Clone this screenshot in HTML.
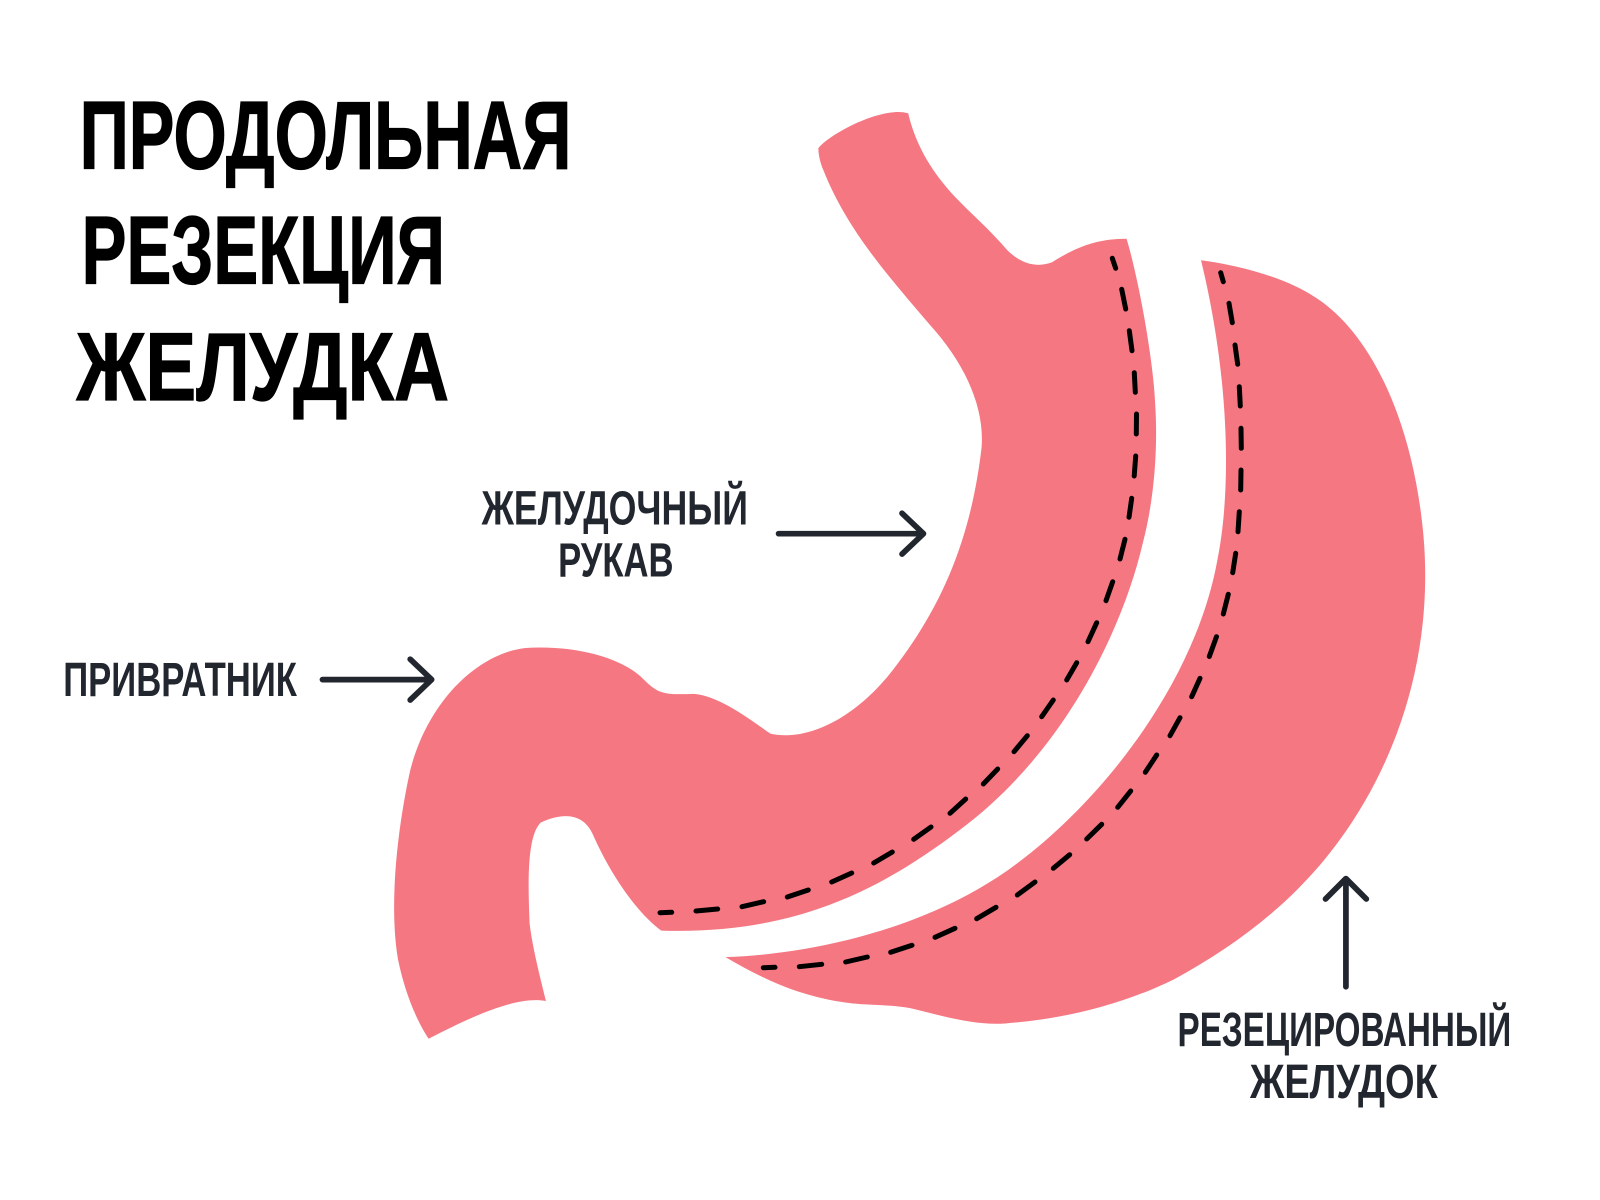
<!DOCTYPE html>
<html lang="ru">
<head>
<meta charset="utf-8">
<title>Продольная резекция желудка</title>
<style>
html,body{margin:0;padding:0;background:#fff;width:1600px;height:1200px;overflow:hidden}
svg{display:block}
text{font-family:"Liberation Sans","DejaVu Sans",sans-serif;font-weight:700}
</style>
</head>
<body>
<svg xmlns="http://www.w3.org/2000/svg" width="1600" height="1200" viewBox="0 0 1568 1176">
<rect width="1568" height="1176" fill="#fff"/>
<path fill="#f57782" d="M802,145 C815,130 860,107 885,110 L890,111 C898,145 915,170 935,192 C950,208 970,225 987,245 C1000,258 1015,263 1031,257 C1055,242 1075,234 1104,234 C1115,270 1130,350 1132,395 C1135,440 1131,490 1120,532 C1100,618 1042,738 941,813 C862,873 778,916 648,912 C625,895 600,860 582,820 C572,795 550,797 530,806 C515,820 518,875 519,905 C522,930 530,960 535,981 C505,975 455,1000 420,1018 C405,995 395,965 390,940 C380,880 392,800 402,755 C420,685 470,640 515,635 C565,632 610,645 630,665 C645,680 650,681 680,680 C705,682 735,705 755,719 C790,727 840,705 880,650 C925,590 952,525 962,438 C965,395 942,352 911,318 C870,270 830,225 807,167 C804,160 802,152 802,145 Z"/>
<path fill="#f57782" d="M1177,255 C1215,260 1260,272 1290,292 C1345,328 1385,415 1395,525 C1405,640 1370,745 1313,823 C1272,880 1215,925 1150,960 C1105,982 1050,998 985,1003 C955,1005 925,996 892,988 C875,985 860,985 843,984 C825,983 800,978 777,970 C755,962 733,951 711,938 C800,935 915,908 997,846 C1085,780 1172,665 1193,549 C1207,480 1205,370 1177,255 Z"/>
<g transform="scale(0.98)" fill="none" stroke="#000" stroke-width="5" stroke-linecap="round">
<path d="M1112.3,258.3L1115.7,268.3M1121.7,289.3L1125.7,309M1129.3,330.7L1132,350.7M1134.3,372.7L1135.3,392.3M1136.5,414L1136.3,434M1135.7,456L1134.2,476M1131.7,498.3L1129,517.3M1125,539.3L1120,559M1112.7,581.7L1106,600.7M1096.7,622.7L1088,641.7M1076.7,662.7L1066.7,680M1053.3,700L1041.7,716.7M1027.3,735.7L1014,751.7M997.7,769L983.3,784M965.7,799L950,813.3M931,827L913.7,839.3M892.3,852L873.7,863M851.7,873L831.7,882M808.3,890L787.3,897M763.7,901.7L742,906.7M717.7,909L696,911M671.7,912.3L660,912.7"/>
<path d="M1220.7,272.7L1223.3,281.7M1229,303.3L1232.3,322.7M1235,345L1237.7,364.3M1239.3,386.7L1240.3,406M1241,428.3L1241.3,448.3M1241,470L1240.7,490M1239.3,511.7L1238,531.7M1235.7,553.3L1232.7,572.7M1228.3,594.3L1223.3,614M1216.5,636.7L1209.3,656.5M1200,678.3L1191.7,696.7M1180,717.7L1170,735.7M1156.7,755L1145.3,772.3M1130.7,791L1117.7,807.3M1101.7,824.3L1086.7,839M1069.7,854.7L1053.3,868.3M1035,882L1017.3,895M996,907.3L976.7,918.7M955,928.3L935,937.3M912,945.3L890.7,952.3M867.3,957L845.7,962M821.7,964.3L799.3,966.7M775,967.3L763.3,967.7"/>
</g>
<g fill="none" stroke="#22262e" stroke-width="5.6" stroke-linecap="round" stroke-linejoin="round">
<path d="M763,523 H905 M884,503 L905,523 L884,543"/>
<path d="M316,666 H423 M402,646 L423,666 L402,686"/>
<path d="M1319,967 V861 M1299,881 L1319,861 L1339,881"/>
</g>
<g fill="#000" font-size="95" stroke="#000" stroke-width="1.2">
<text x="78" y="165" textLength="482" lengthAdjust="spacingAndGlyphs">ПРОДОЛЬНАЯ</text>
<text x="80" y="278" textLength="356" lengthAdjust="spacingAndGlyphs">РЕЗЕКЦИЯ</text>
<text x="75" y="392" textLength="365" lengthAdjust="spacingAndGlyphs">ЖЕЛУДКА</text>
</g>
<g fill="#22262e" font-size="47">
<text x="472" y="514" textLength="261" lengthAdjust="spacingAndGlyphs">ЖЕЛУДОЧНЫЙ</text>
<text x="547" y="565" textLength="113" lengthAdjust="spacingAndGlyphs">РУКАВ</text>
<text x="62" y="682" textLength="229" lengthAdjust="spacingAndGlyphs">ПРИВРАТНИК</text>
<text x="1154" y="1025" textLength="327" lengthAdjust="spacingAndGlyphs">РЕЗЕЦИРОВАННЫЙ</text>
<text x="1225" y="1076" textLength="184" lengthAdjust="spacingAndGlyphs">ЖЕЛУДОК</text>
</g>
</svg>
</body>
</html>
